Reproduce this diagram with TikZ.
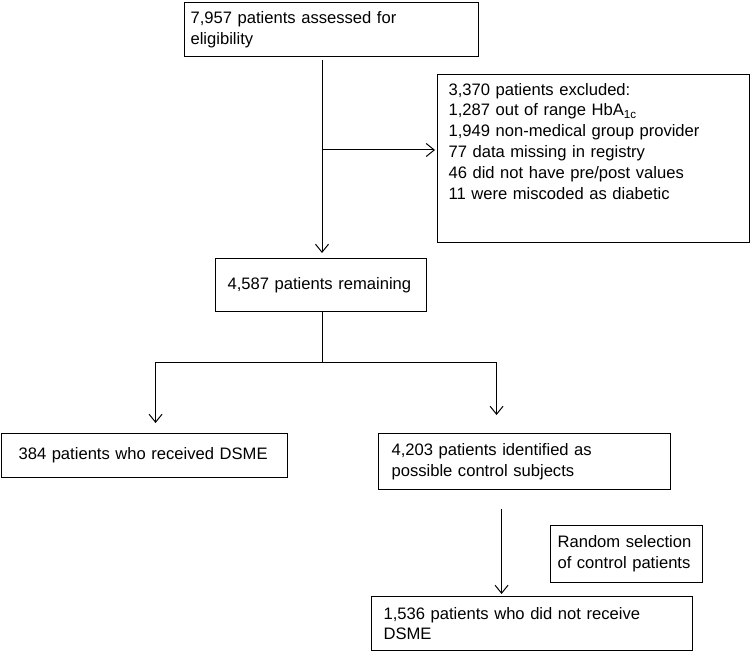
\documentclass[tikz,border=0pt]{standalone}
\usepackage{fontspec}
\setmainfont{Liberation Sans}
\usetikzlibrary{arrows.meta}

\begin{document}
\begin{tikzpicture}[
    x=1pt, y=-1pt,
    every node/.append style={font=\fontsize{16.6}{20.8}\selectfont},
    stage/.style={rectangle, draw=black, line width=1.1pt, anchor=north west, align=left, inner xsep=12pt, inner ysep=0pt},
    arrow/.style={line width=1pt, -{Straight Barb[length=8pt,width=13pt]}},
    link/.style={line width=1pt}
]
    \useasboundingbox (0,0) rectangle (751,652);

    % Boxes of the flow
    \node[stage, inner xsep=6pt, text width=282pt, minimum height=54pt] (assessed) at (184,2) {7,957 patients assessed for\\eligibility};
    \node[stage, inner xsep=11pt, inner ysep=7pt, text width=290pt, minimum height=168pt] (excluded) at (437,74) {3,370 patients excluded:\\1,287 out of range HbA\textsubscript{1c}\\1,949 non-medical group provider\\77 data missing in registry\\46 did not have pre/post values\\11 were miscoded as diabetic\\[14pt]\mbox{}};
    \node[stage, text width=187pt, minimum height=53pt] (remaining) at (215,258) {4,587 patients remaining};
    \node[stage, inner xsep=17pt, text width=252pt, minimum height=44pt] (dsme) at (1,433) {384 patients who received DSME};
    \node[stage, inner xsep=13pt, text width=266pt, minimum height=56pt] (control) at (378,433) {4,203 patients identified as\\possible control subjects};
    \node[stage, inner xsep=7pt, text width=138pt, minimum height=57pt] (random) at (550,525) {Random selection\\of control patients};
    \node[stage, text width=297pt, minimum height=54pt] (nodsme) at (371,596) {1,536 patients who did not receive\\DSME};

    % Split points
    \coordinate (split) at (322,150);
    \coordinate (fork) at (322,362);
    \coordinate (pick) at ([xshift=-23pt,yshift=-19pt]control.south);

    % Connectors
    \draw[arrow] ([yshift=-3pt]assessed.south -| split) -- ([yshift=5pt]remaining.north -| split);
    \draw[arrow] (split) -- ([xshift=-2pt]split -| excluded.west);
    \draw[link] (remaining.south -| fork) -- (fork);
    \draw[arrow] (fork) -| ([xshift=11pt,yshift=10pt]dsme.north);
    \draw[arrow] (fork) -| ([xshift=-28pt,yshift=18pt]control.north);
    \draw[arrow] (pick) -- ([yshift=2pt]pick |- nodsme.north);
\end{tikzpicture}
\end{document}
